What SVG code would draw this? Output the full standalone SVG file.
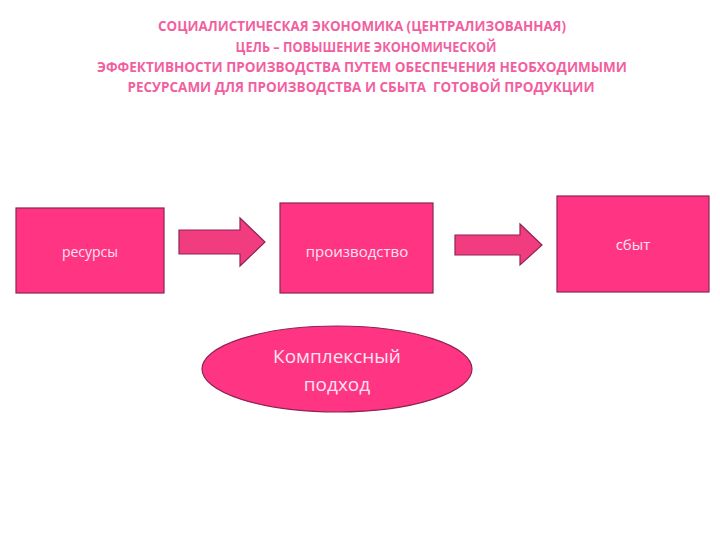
<svg xmlns="http://www.w3.org/2000/svg" width="720" height="540" viewBox="0 0 720 540">
<style>
.title{font-family:"Open Sans","Liberation Sans",sans-serif;font-weight:bold;font-size:14px;fill:#f25f9f;text-anchor:middle}
.box{fill:#ff3584;stroke:#8e2452;stroke-width:1.2}
.arrow{fill:#f23c80;stroke:#8e2452;stroke-width:1.2}
.lbl{font-family:"Open Sans","Liberation Sans",sans-serif;fill:#fbe3f0;text-anchor:middle}
</style>
<rect width="720" height="540" fill="#ffffff"/>
<g id="title">
<text class="title" x="362" y="31" textLength="408" lengthAdjust="spacingAndGlyphs">СОЦИАЛИСТИЧЕСКАЯ ЭКОНОМИКА (ЦЕНТРАЛИЗОВАННАЯ)</text>
<text class="title" x="366" y="52" textLength="261" lengthAdjust="spacingAndGlyphs">ЦЕЛЬ – ПОВЫШЕНИЕ ЭКОНОМИЧЕСКОЙ</text>
<text class="title" x="362" y="72" textLength="530" lengthAdjust="spacingAndGlyphs">ЭФФЕКТИВНОСТИ ПРОИЗВОДСТВА ПУТЕМ ОБЕСПЕЧЕНИЯ НЕОБХОДИМЫМИ</text>
<text class="title" x="361" y="92" textLength="467" lengthAdjust="spacingAndGlyphs" xml:space="preserve">РЕСУРСАМИ ДЛЯ ПРОИЗВОДСТВА И СБЫТА  ГОТОВОЙ ПРОДУКЦИИ</text>
</g>
<g id="resources">
<rect class="box" x="16" y="208" width="148" height="85"/>
<text class="lbl" x="90" y="257" font-size="14">ресурсы</text>
</g>
<g id="production">
<rect class="box" x="280" y="203" width="153" height="90"/>
<text class="lbl" x="357" y="257" font-size="15">производство</text>
</g>
<g id="sales">
<rect class="box" x="557" y="196" width="152" height="96"/>
<text class="lbl" x="633" y="250" font-size="15">сбыт</text>
</g>
<g id="approach">
<ellipse class="box" cx="337" cy="369" rx="135" ry="43"/>
<text class="lbl" x="337" y="363" font-size="19">Комплексный</text>
<text class="lbl" x="337" y="391" font-size="19">подход</text>
</g>
<g id="connectors">
<polygon class="arrow" points="179,230 240,230 240,218 265,242 240,266 240,254 179,254"/>
<polygon class="arrow" points="455,235 520,235 520,224 542,245 520,265 520,255 455,255"/>
</g>
</svg>
